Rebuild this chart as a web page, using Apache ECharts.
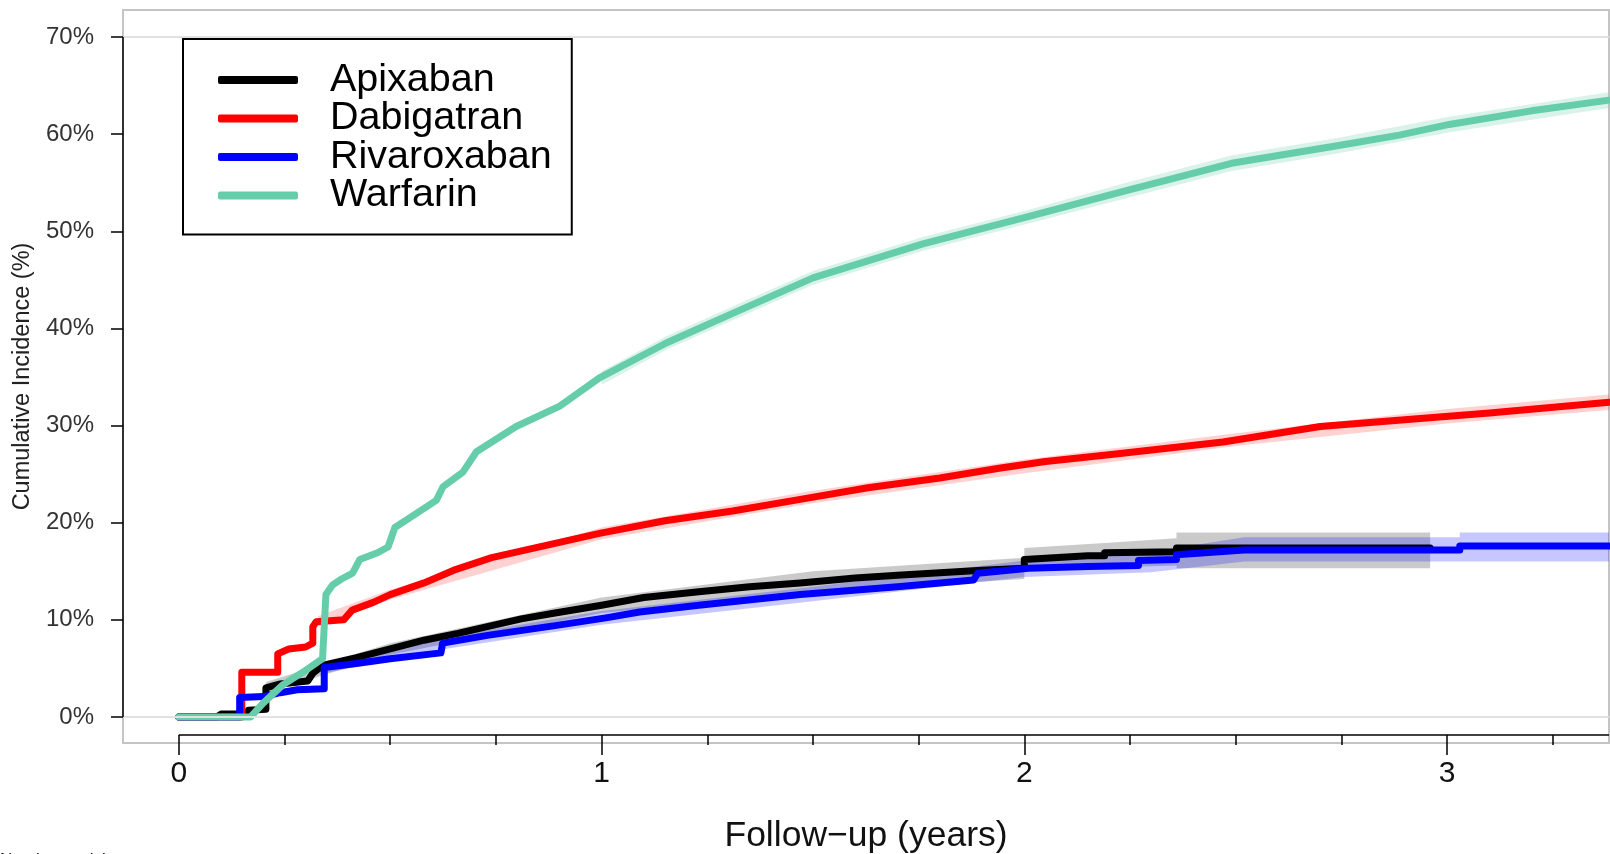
<!DOCTYPE html>
<html>
<head>
<meta charset="utf-8">
<script src="https://cdn.jsdelivr.net/npm/echarts@6/dist/echarts.min.js"></script>
<style>html,body{margin:0;padding:0;background:#fff}#c{width:1610px;height:854px}</style>
</head>
<body>
<div id="c"></div>
<script>
// ---------- data (years, cumulative incidence %) ----------
const seriesNames = ['Apixaban', 'Dabigatran', 'Rivaroxaban', 'Warfarin'];
const xTickMajor = [0, 1, 2, 3];
const xTickMinor = [0.25, 0.5, 0.75, 1.25, 1.5, 1.75, 2.25, 2.5, 2.75, 3.25];
const yTicks = [0, 10, 20, 30, 40, 50, 60, 70];

const apixabanT = [0, 0.09, 0.10, 0.165, 0.165, 0.206, 0.206, 0.24, 0.305, 0.317, 0.34, 0.42, 0.50, 0.58, 0.66, 0.74, 0.81, 0.89, 1.0, 1.1, 1.23, 1.35, 1.47, 1.6, 1.70, 1.90, 2.0, 2.0, 2.15, 2.19, 2.19, 2.36, 2.36, 2.96];
const apixabanV = [0, 0, 0.3, 0.3, 0.7, 0.8, 3.0, 3.4, 3.7, 4.5, 5.3, 6.1, 7.0, 7.9, 8.6, 9.4, 10.1, 10.7, 11.5, 12.3, 12.9, 13.4, 13.8, 14.3, 14.6, 15.1, 15.3, 16.2, 16.6, 16.6, 16.9, 17.0, 17.4, 17.4];

const dabigatranT = [0, 0.149, 0.149, 0.234, 0.234, 0.26, 0.30, 0.317, 0.317, 0.325, 0.39, 0.41, 0.46, 0.50, 0.58, 0.656, 0.74, 0.995, 1.15, 1.31, 1.47, 1.63, 1.80, 1.94, 2.05, 2.2, 2.47, 2.70, 2.84, 3.10, 3.383];
const dabigatranV = [0, 0, 4.6, 4.6, 6.5, 7.0, 7.2, 7.6, 9.3, 9.8, 10.0, 11.0, 11.8, 12.6, 13.8, 15.2, 16.4, 18.9, 20.2, 21.2, 22.4, 23.6, 24.6, 25.6, 26.3, 27.0, 28.3, 29.9, 30.4, 31.3, 32.4];

const rivaroxabanT = [0, 0.144, 0.144, 0.2, 0.24, 0.28, 0.344, 0.344, 0.42, 0.50, 0.62, 0.624, 0.73, 0.89, 1.01, 1.09, 1.23, 1.47, 1.70, 1.88, 1.89, 2.01, 2.15, 2.27, 2.27, 2.36, 2.36, 2.52, 3.03, 3.03, 3.383];
const rivaroxabanV = [0, 0, 2.0, 2.1, 2.5, 2.8, 2.9, 5.1, 5.5, 6.0, 6.6, 7.6, 8.4, 9.4, 10.2, 10.8, 11.5, 12.6, 13.4, 14.1, 14.8, 15.3, 15.5, 15.6, 16.1, 16.2, 16.7, 17.2, 17.2, 17.6, 17.6];

const warfarinT = [0, 0.17, 0.199, 0.246, 0.293, 0.34, 0.344, 0.348, 0.364, 0.385, 0.411, 0.428, 0.47, 0.495, 0.511, 0.546, 0.609, 0.625, 0.672, 0.704, 0.798, 0.901, 0.995, 1.153, 1.318, 1.5, 1.76, 2.0, 2.25, 2.49, 2.74, 2.887, 3.005, 3.2, 3.383];
const warfarinV = [0, 0, 1.4, 3.3, 4.6, 6.0, 6.2, 12.6, 13.6, 14.2, 14.8, 16.2, 16.9, 17.5, 19.5, 20.5, 22.3, 23.7, 25.2, 27.3, 29.9, 32.0, 34.9, 38.5, 41.7, 45.2, 48.7, 51.4, 54.3, 57.0, 58.8, 59.9, 61.0, 62.4, 63.5];

// confidence bands
const apixabanBandT  = [0.206, 0.5, 1.0, 1.5, 2.0, 2.0, 2.19, 2.36, 2.36, 2.96];
const apixabanBandLo = [2.5, 6.4, 10.7, 12.9, 14.2, 15.0, 15.4, 15.6, 15.3, 15.3];
const apixabanBandHi = [3.6, 7.6, 12.3, 15.0, 16.4, 17.4, 17.9, 18.4, 19.0, 19.0];

const rivaroxabanBandT  = [0.344, 0.63, 1.0, 1.5, 2.0, 2.3, 2.52, 3.03, 3.03, 3.383];
const rivaroxabanBandLo = [4.5, 7.0, 9.5, 11.9, 14.4, 14.9, 16.0, 16.0, 16.0, 16.0];
const rivaroxabanBandHi = [5.6, 8.2, 10.9, 13.4, 16.1, 17.0, 18.5, 18.5, 19.0, 19.0];

const dabigatranBandT  = [0.33, 0.5, 1.0, 1.5, 2.0, 2.5, 3.0, 3.383];
const dabigatranBandLo = [9.3, 12.1, 18.3, 22.0, 25.1, 27.9, 30.2, 31.6];
const dabigatranBandHi = [10.4, 13.1, 19.5, 23.3, 26.5, 29.2, 31.7, 33.2];

const warfarinBandT  = [1.0, 1.153, 1.318, 1.5, 1.76, 2.0, 2.25, 2.49, 2.74, 3.005, 3.383];
const warfarinBandLo = [34.2, 37.8, 41.0, 44.5, 48.0, 50.7, 53.5, 56.2, 58.0, 60.2, 62.7];
const warfarinBandHi = [35.6, 39.2, 42.4, 45.9, 49.4, 52.1, 55.1, 57.8, 59.6, 61.8, 64.3];

// ---------- chart ----------
const FONT = "'Liberation Sans', Arial, Helvetica, sans-serif";
const xMin = -0.132, xMax = 3.383, yMin = -2.68, yMax = 72.78;
const xAxisLineY = -1.85; // where the R-style x axis line sits

function zip(t, v) { return t.map((x, i) => [x, v[i]]); }

function band(name, t, lo, hi, fill) {
  return {
    type: 'custom', name: name, silent: true, clip: true,
    data: [[0, 0]],
    renderItem: function (params, api) {
      const pts = [];
      for (let i = 0; i < t.length; i++) pts.push(api.coord([t[i], hi[i]]));
      for (let i = t.length - 1; i >= 0; i--) pts.push(api.coord([t[i], lo[i]]));
      return { type: 'polygon', shape: { points: pts }, style: { fill: fill } };
    }
  };
}

function curve(name, t, v, color) {
  return {
    type: 'line', name: name, data: zip(t, v), showSymbol: false, symbol: 'none',
    clip: true, silent: true,
    itemStyle: { color: color },
    lineStyle: { color: color, width: 7, cap: 'round', join: 'round' }
  };
}

const chart = echarts.init(document.getElementById('c'), null, { renderer: 'canvas' });
chart.setOption({
  animation: false,
  backgroundColor: '#fff',
  textStyle: { fontFamily: FONT },
  grid: {
    left: 123, top: 10, right: 1, bottom: 111, show: true,
    borderColor: '#c4c4c4', borderWidth: 2, backgroundColor: 'transparent',
    containLabel: false, outerBoundsMode: 'none'
  },
  legend: {
    data: seriesNames, orient: 'vertical', left: 183, top: 39,
    padding: [21, 20, 19, 35], borderColor: '#000', borderWidth: 2, borderRadius: 0,
    backgroundColor: '#fff',
    itemWidth: 80, itemHeight: 8, itemGap: -1.5, icon: 'roundRect', selectedMode: false,
    textStyle: { fontSize: 39.5, lineHeight: 38, color: '#000', fontFamily: FONT, padding: [0, 0, 0, 27], width: 221 }
  },
  xAxis: [{
    type: 'value', min: xMin, max: xMax, position: 'bottom', offset: -8,
    axisLine: { show: false, onZero: false }, splitLine: { show: false },
    axisTick: { show: true, customValues: xTickMajor, length: 20, lineStyle: { color: '#000', width: 1.5 } },
    axisLabel: { customValues: xTickMajor, fontSize: 30, color: '#111', margin: 24, fontFamily: FONT },
    name: 'Follow\u2212up (years)', nameLocation: 'middle', nameGap: 83,
    nameTextStyle: { fontSize: 35.5, color: '#111', fontFamily: FONT }
  }, {
    type: 'value', min: xMin, max: xMax, position: 'bottom', offset: -8,
    axisLine: { show: false, onZero: false }, splitLine: { show: false },
    axisTick: { show: true, customValues: xTickMinor, length: 10, lineStyle: { color: '#000', width: 1.5 } },
    axisLabel: { show: false }
  }],
  yAxis: {
    type: 'value', min: yMin, max: yMax, position: 'left',
    axisLine: { show: false, onZero: false }, splitLine: { show: false },
    axisTick: { show: true, customValues: yTicks, length: 12, lineStyle: { color: '#000', width: 1.5 } },
    axisLabel: { customValues: yTicks, formatter: v => v + '%', fontSize: 24, color: '#333', margin: 29, fontFamily: FONT },
    name: 'Cumulative Incidence (%)', nameLocation: 'middle', nameGap: 88,
    nameTextStyle: { fontSize: 23.5, color: '#222', fontFamily: FONT }
  },
  graphic: [{
    type: 'text', left: 0, top: 852,
    style: { text: 'Number at risk', fontSize: 17, fill: '#111', fontFamily: FONT }
  }],
  series: [
    {
      type: 'line', name: 'refLines', data: [[xMin, 0]], symbol: 'none', silent: true, clip: false,
      lineStyle: { width: 0 },
      markLine: {
        silent: true, symbol: 'none', animation: false, label: { show: false },
        lineStyle: { color: '#e2e2e2', width: 2, type: 'solid' },
        data: [
          [{ coord: [xMin, 0] }, { coord: [xMax, 0] }],
          [{ coord: [xMin, 70] }, { coord: [xMax, 70] }]
        ]
      }
    },
    band('Apixaban CI', apixabanBandT, apixabanBandLo, apixabanBandHi, 'rgba(128,128,128,0.42)'),
    curve('Apixaban', apixabanT, apixabanV, '#000000'),
    band('Dabigatran CI', dabigatranBandT, dabigatranBandLo, dabigatranBandHi, 'rgba(255,0,0,0.18)'),
    curve('Dabigatran', dabigatranT, dabigatranV, '#ff0000'),
    band('Rivaroxaban CI', rivaroxabanBandT, rivaroxabanBandLo, rivaroxabanBandHi, 'rgba(0,0,255,0.22)'),
    curve('Rivaroxaban', rivaroxabanT, rivaroxabanV, '#0000ff'),
    band('Warfarin CI', warfarinBandT, warfarinBandLo, warfarinBandHi, 'rgba(102,205,170,0.25)'),
    curve('Warfarin', warfarinT, warfarinV, '#66cdaa'),
    {
      type: 'line', name: 'axes', data: [[xMin, 0]], symbol: 'none', silent: true, clip: false, z: 5,
      lineStyle: { width: 0 },
      markLine: {
        silent: true, symbol: 'none', animation: false, label: { show: false },
        lineStyle: { color: '#000', width: 1.5, type: 'solid' },
        data: [
          [{ coord: [0, xAxisLineY] }, { coord: [xMax, xAxisLineY] }],
          [{ coord: [xMin, 0] }, { coord: [xMin, 70] }]
        ]
      }
    }
  ]
});
</script>
</body>
</html>
